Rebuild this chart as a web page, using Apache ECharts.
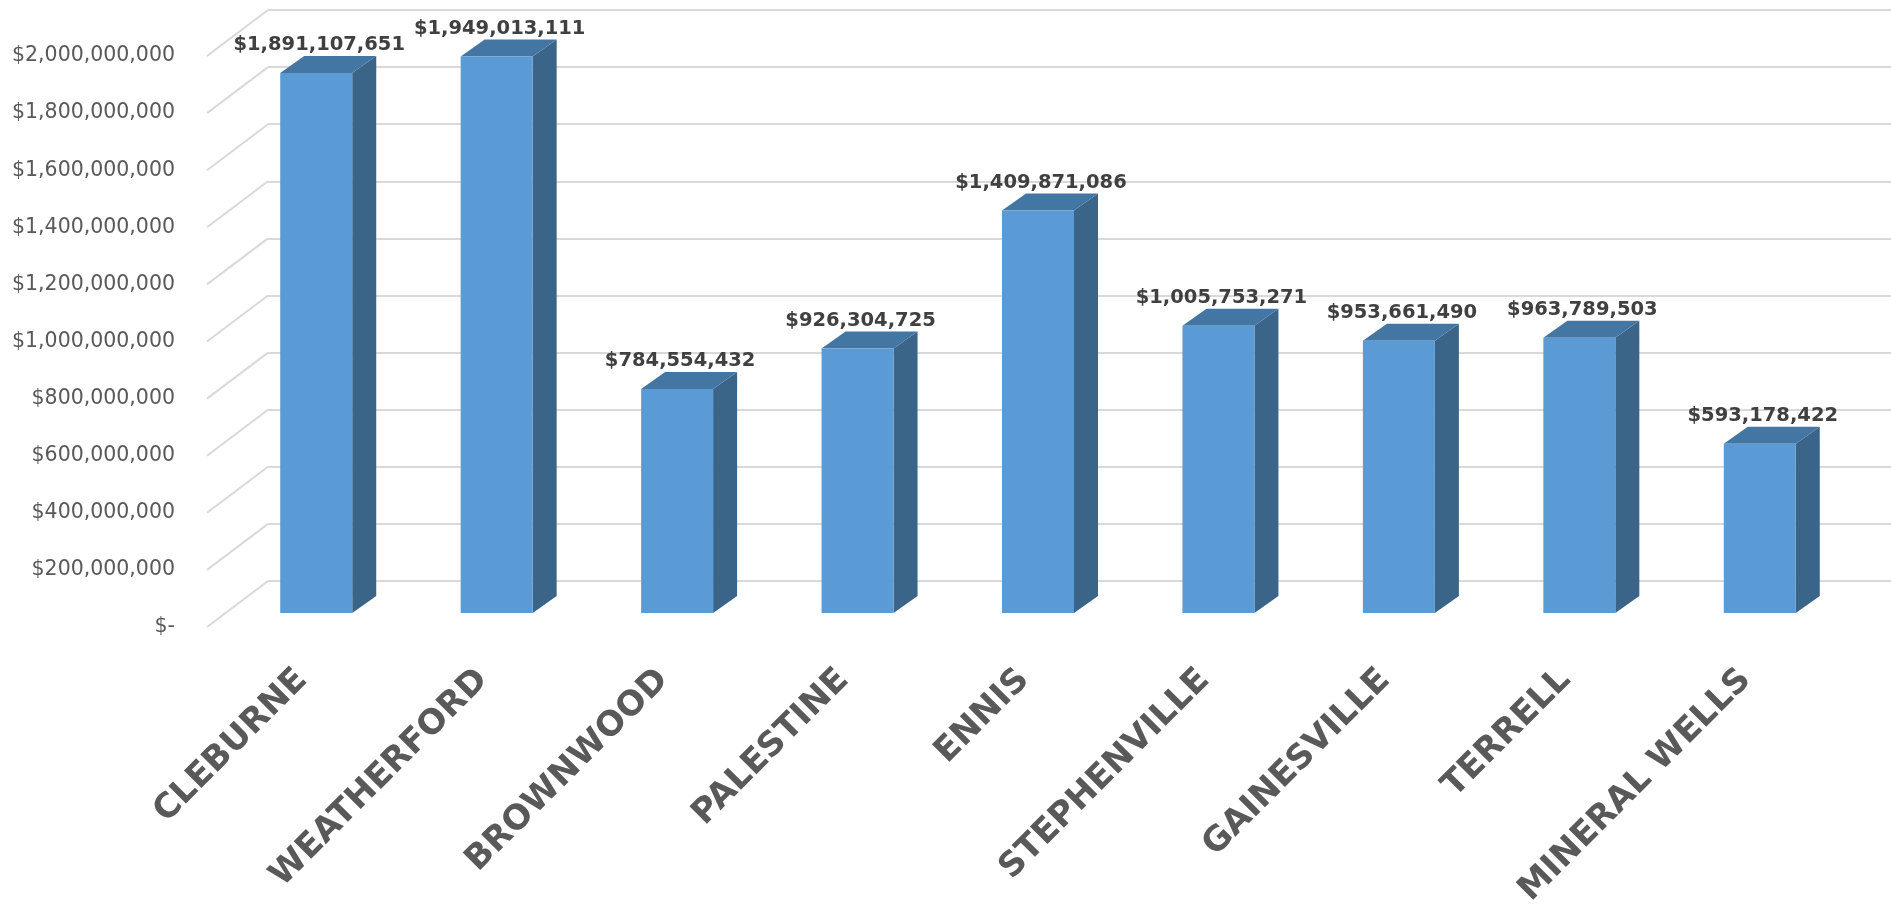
<!DOCTYPE html>
<html>
<head>
<meta charset="utf-8">
<script src="https://cdn.jsdelivr.net/npm/echarts@6/dist/echarts.min.js"></script>
<style>
  html, body { margin: 0; padding: 0; background: #ffffff; }
  #chart { width: 1891px; height: 910px; }
</style>
</head>
<body>
<div id="chart"></div>
<script>
// City totals
const cities = ['CLEBURNE', 'WEATHERFORD', 'BROWNWOOD', 'PALESTINE', 'ENNIS',
                'STEPHENVILLE', 'GAINESVILLE', 'TERRELL', 'MINERAL WELLS'];
const totals = [1891107651, 1949013111, 784554432, 926304725, 1409871086,
                1005753271, 953661490, 963789503, 593178422];
// Value axis ticks
const tickValues = [0, 200000000, 400000000, 600000000, 800000000, 1000000000,
                    1200000000, 1400000000, 1600000000, 1800000000, 2000000000];

const AXIS_MAX = 2000000000;
const AXIS_STEP = 200000000;

function money(v) {
  if (v === 0) return '$-';
  return '$' + Math.round(v).toLocaleString('en-US');
}

// 3-D column look: front face, right side, top face
const FRONT_W = 72, DEPTH_X = 24, DEPTH_Y = 17;
const COL_FRONT = '#5b9bd5', COL_SIDE = '#3a6589', COL_TOP = '#4476a4';

function renderColumn(params, api) {
  const idx = api.value(0);
  const val = api.value(1);
  const top = api.coord([idx, val]);
  const base = api.coord([idx, 0]);
  const x0 = top[0] - FRONT_W / 2, x1 = top[0] + FRONT_W / 2;
  const yT = top[1], yB = base[1];
  return {
    type: 'group',
    children: [
      { type: 'polygon', shape: { points: [[x1, yT], [x1 + DEPTH_X, yT - DEPTH_Y], [x1 + DEPTH_X, yB - DEPTH_Y], [x1, yB]] },
        style: { fill: COL_SIDE } },
      { type: 'polygon', shape: { points: [[x0, yT], [x1, yT], [x1 + DEPTH_X, yT - DEPTH_Y], [x0 + DEPTH_X, yT - DEPTH_Y]] },
        style: { fill: COL_TOP } },
      { type: 'rect', shape: { x: x0, y: yT, width: FRONT_W, height: yB - yT },
        style: { fill: COL_FRONT } },
      { type: 'text', style: { text: money(val), x: top[0] + 3, y: yT - 28,
          align: 'center', verticalAlign: 'middle',
          font: 'bold 19.5px "DejaVu Sans"', fill: '#404040' } }
    ]
  };
}

// Floor-to-wall diagonal for each gridline
const WALL_DX = 61, WALL_DY = 46;
function renderDiagonal(params, api) {
  const p = api.coord([0, api.value(0)]);
  return {
    type: 'line',
    shape: { x1: p[0], y1: p[1], x2: p[0] + WALL_DX, y2: p[1] - WALL_DY },
    style: { stroke: '#d9d9d9', lineWidth: 2 }
  };
}

const chart = echarts.init(document.getElementById('chart'), null, { renderer: 'canvas' });

chart.setOption({
  animation: false,
  backgroundColor: '#ffffff',
  grid: [
    // 0: columns
    { left: 226, right: 41, top: 42, bottom: 297 },
    // 1: back wall gridlines
    { left: 268, right: 0, top: 10, bottom: 329 },
    // 2: value labels + diagonals
    { left: 207, top: 56, bottom: 283, width: 100 },
    // 3: category labels
    { left: 212, right: 55, top: 42, bottom: 297 }
  ],
  xAxis: [
    { gridIndex: 0, type: 'category', data: cities, show: false },
    { gridIndex: 1, type: 'value', min: 0, max: 1, show: false },
    { gridIndex: 2, type: 'value', min: 0, max: 1, show: false },
    { gridIndex: 3, type: 'category', data: cities,
      axisLine: { show: false }, axisTick: { show: false },
      axisLabel: { rotate: 45, margin: 68, interval: 0,
        fontFamily: 'DejaVu Sans', fontWeight: 'bold', fontSize: 34, color: '#595959' } }
  ],
  yAxis: [
    { gridIndex: 0, type: 'value', min: 0, max: AXIS_MAX, interval: AXIS_STEP, show: false },
    { gridIndex: 1, type: 'value', min: 0, max: AXIS_MAX, interval: AXIS_STEP,
      axisLine: { show: false }, axisTick: { show: false }, axisLabel: { show: false },
      splitLine: { show: true, lineStyle: { color: '#d9d9d9', width: 2 } } },
    { gridIndex: 2, type: 'value', min: 0, max: AXIS_MAX, interval: AXIS_STEP,
      axisLine: { show: false }, axisTick: { show: false }, splitLine: { show: false },
      axisLabel: { margin: 32, formatter: money, padding: [3, 0, 0, 0],
        fontFamily: 'DejaVu Sans', fontSize: 20.5, color: '#595959' } },
    { gridIndex: 3, type: 'value', min: 0, max: AXIS_MAX, show: false }
  ],
  series: [
    { type: 'custom', name: 'wall', xAxisIndex: 2, yAxisIndex: 2,
      data: tickValues.map(v => [v]), encode: { y: 0 },
      renderItem: renderDiagonal, silent: true, z: 1 },
    { type: 'custom', name: 'Total', xAxisIndex: 0, yAxisIndex: 0,
      data: totals.map((v, i) => [i, v]), encode: { x: 0, y: 1 },
      renderItem: renderColumn, z: 5 }
  ]
});
</script>
</body>
</html>
